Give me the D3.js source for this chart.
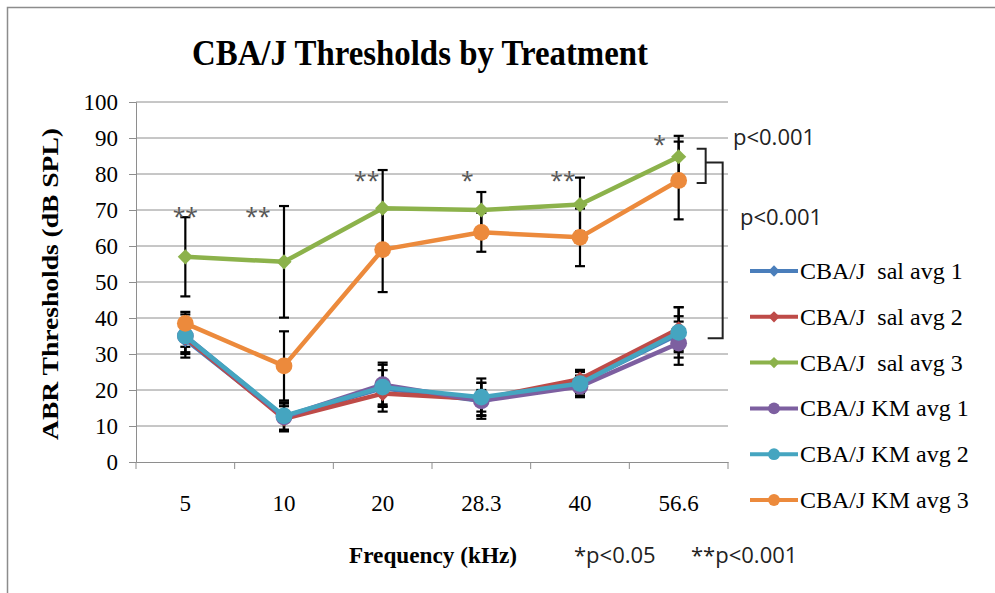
<!DOCTYPE html>
<html>
<head>
<meta charset="utf-8">
<script src="https://cdn.jsdelivr.net/npm/d3@7"></script>
<style>
  body { margin: 0; background: #fff; }
  text { font-family: 'Liberation Serif', 'Times New Roman', serif; }
  .sans { font-family: 'Open Sans', 'Noto Sans', sans-serif; }
</style>
</head>
<body>
<svg width="995" height="593"></svg>
<script>
// categories and tick labels
var freqs = ['5', '10', '20', '28.3', '40', '56.6'];
var yTicks = [0, 10, 20, 30, 40, 50, 60, 70, 80, 90, 100];

// series means (dB SPL)
var salAvg1 = [34, 12.5, 20.5, 17, 22, 35.5];
var salAvg2 = [34.5, 12, 19, 17.5, 23, 37];
var salAvg3 = [57, 55.6, 70.5, 70, 71.5, 84.8];
var kmAvg1 = [35, 12.5, 21.5, 17, 21, 33];
var kmAvg2 = [35, 12.8, 20.8, 18, 21.8, 36];
var kmAvg3 = [38.5, 26.7, 59, 63.8, 62.4, 78.2];

// error bar half-widths
var salErr1 = [4, 3.8, 5, 5, 3, 5];
var salErr2 = [4, 3.5, 3.7, 4.5, 2.6, 6];
var salErr3 = [11, 15.5, 10.6, 5, 7.5, 5.8];
var kmErr1 = [3, 3.8, 5.5, 3, 3, 6];
var kmErr2 = [6, 3.8, 6.8, 5.2, 3.5, 7];
var kmErr3 = [3.2, 9.6, 11.8, 5.4, 8, 10.8];

// significance markers
var sigLabels = ['**', '**', '**', '*', '**', '*'];
var sigLevels = [70, 70, 80, 80, 80, 90];

var series = [
  { name: 'CBA/J  sal avg 1', values: salAvg1, err: salErr1, color: '#4a7ebb', shape: 'diamond' },
  { name: 'CBA/J  sal avg 2', values: salAvg2, err: salErr2, color: '#be4b48', shape: 'diamond' },
  { name: 'CBA/J  sal avg 3', values: salAvg3, err: salErr3, color: '#8cb24b', shape: 'diamond' },
  { name: 'CBA/J KM avg 1', values: kmAvg1, err: kmErr1, color: '#7d5fa0', shape: 'circle' },
  { name: 'CBA/J KM avg 2', values: kmAvg2, err: kmErr2, color: '#45a5c0', shape: 'circle' },
  { name: 'CBA/J KM avg 3', values: kmAvg3, err: kmErr3, color: '#ec8a3c', shape: 'circle' }
];

var svg = d3.select('svg');

// outer frame
svg.append('rect')
  .attr('x', 7.5).attr('y', 7.5)
  .attr('width', 1000).attr('height', 600)
  .style('fill', 'none').style('stroke', '#8c8c8c').style('stroke-width', 1.5);

var x = d3.scaleBand().domain(freqs).range([136, 728]);
var y = d3.scaleLinear().domain([0, 100]).range([462, 102]);
var cx = function (i) { return x(freqs[i]) + x.bandwidth() / 2; };

// gridlines
svg.append('g')
  .selectAll('line')
  .data(yTicks.slice(1))
  .enter()
  .append('line')
  .attr('x1', 136).attr('x2', 728)
  .attr('y1', function (d) { return y(d); })
  .attr('y2', function (d) { return y(d); })
  .style('stroke', '#8e8e8e').style('stroke-width', 1);

// y axis
var yAxis = svg.append('g')
  .attr('transform', 'translate(136,0)')
  .call(d3.axisLeft(y).tickValues(yTicks).tickSize(7).tickPadding(11));
yAxis.select('.domain').style('stroke', '#8e8e8e');
yAxis.selectAll('.tick line').style('stroke', '#8e8e8e');
yAxis.selectAll('.tick text')
  .style('font-family', "'Liberation Serif', serif")
  .style('font-size', '23px').style('fill', '#000');

// x axis
var xAxis = svg.append('g')
  .attr('transform', 'translate(0,462)')
  .call(d3.axisBottom(x).tickSize(0).tickPadding(33));
xAxis.select('.domain').style('stroke', '#8e8e8e');
xAxis.selectAll('.tick text')
  .style('font-family', "'Liberation Serif', serif")
  .style('font-size', '23px').style('fill', '#000');
svg.append('g')
  .selectAll('line')
  .data(freqs.concat(['end']))
  .enter()
  .append('line')
  .attr('x1', function (d, i) { return 136 + i * x.bandwidth(); })
  .attr('x2', function (d, i) { return 136 + i * x.bandwidth(); })
  .attr('y1', 462).attr('y2', 469)
  .style('stroke', '#8e8e8e');

// error bars
var capW = 5;
series.forEach(function (s) {
  var g = svg.append('g').style('stroke', '#000').style('stroke-width', 2.2);
  s.values.forEach(function (v, i) {
    var lo = y(v - s.err[i]), hi = y(v + s.err[i]);
    g.append('line').attr('x1', cx(i)).attr('x2', cx(i)).attr('y1', lo).attr('y2', hi);
    g.append('line').attr('x1', cx(i) - capW).attr('x2', cx(i) + capW).attr('y1', lo).attr('y2', lo);
    g.append('line').attr('x1', cx(i) - capW).attr('x2', cx(i) + capW).attr('y1', hi).attr('y2', hi);
  });
});

// lines and markers
var line = d3.line()
  .x(function (d, i) { return cx(i); })
  .y(function (d) { return y(d); });

series.forEach(function (s) {
  svg.append('path')
    .datum(s.values)
    .attr('d', line)
    .style('fill', 'none')
    .style('stroke', s.color)
    .style('stroke-width', 4.5)
    .style('stroke-linejoin', 'round');

  var sym = s.shape === 'diamond'
    ? d3.symbol().type(d3.symbolSquare).size(115)
    : d3.symbol().type(d3.symbolCircle).size(220);
  svg.append('g')
    .selectAll('path')
    .data(s.values)
    .enter()
    .append('path')
    .attr('d', sym)
    .attr('transform', function (d, i) {
      return 'translate(' + cx(i) + ',' + y(d) + ')' + (s.shape === 'diamond' ? ' rotate(45)' : '');
    })
    .style('fill', s.color);
});

// significance asterisks
var sigDx = [0, -26, -16, -14, -17, -19];
svg.append('g')
  .selectAll('text')
  .data(sigLabels)
  .enter()
  .append('text')
  .attr('class', 'sans')
  .attr('x', function (d, i) { return cx(i) + sigDx[i]; })
  .attr('y', function (d, i) { return y(sigLevels[i]) + 15; })
  .attr('text-anchor', 'middle')
  .style('font-size', '23px')
  .style('fill', '#555')
  .text(function (d) { return d; });

// brackets
var last = cx(5);
svg.append('path')
  .attr('d', 'M' + (last + 18) + ',' + y(87) + 'H' + (last + 27) + 'V' + y(77.5) + 'H' + (last + 18))
  .style('fill', 'none').style('stroke', '#222').style('stroke-width', 2);
svg.append('path')
  .attr('d', 'M' + (last + 27) + ',' + y(83.2) + 'H' + (last + 44) + 'V' + y(34.4) + 'H' + (last + 29))
  .style('fill', 'none').style('stroke', '#222').style('stroke-width', 2);
svg.append('text').attr('class', 'sans')
  .attr('x', 733).attr('y', 145)
  .style('font-size', '22px').style('fill', '#222')
  .text('p<0.001');
svg.append('text').attr('class', 'sans')
  .attr('x', 740).attr('y', 225)
  .style('font-size', '22px').style('fill', '#222')
  .text('p<0.001');

// title and axis titles
svg.append('text')
  .attr('x', 192).attr('y', 65)
  .attr('textLength', 456).attr('lengthAdjust', 'spacingAndGlyphs')
  .style('font-size', '35px').style('font-weight', 'bold')
  .text('CBA/J Thresholds by Treatment');

svg.append('text')
  .attr('transform', 'translate(58,284) rotate(-90)')
  .attr('text-anchor', 'middle')
  .attr('textLength', 312).attr('lengthAdjust', 'spacingAndGlyphs')
  .style('font-size', '24px').style('font-weight', 'bold')
  .text('ABR Thresholds (dB SPL)');

svg.append('text')
  .attr('x', 433).attr('y', 563)
  .attr('text-anchor', 'middle')
  .attr('textLength', 168).attr('lengthAdjust', 'spacingAndGlyphs')
  .style('font-size', '24px').style('font-weight', 'bold')
  .text('Frequency (kHz)');

svg.append('text').attr('class', 'sans')
  .attr('x', 574).attr('y', 563)
  .style('font-size', '22px').style('fill', '#222')
  .text('*p<0.05');
svg.append('text').attr('class', 'sans')
  .attr('x', 691).attr('y', 563)
  .style('font-size', '22px').style('fill', '#222')
  .text('**p<0.001');

// legend
var legend = svg.append('g')
  .selectAll('g')
  .data(series)
  .enter()
  .append('g')
  .attr('transform', function (d, i) { return 'translate(750,' + (271 + i * 45.8) + ')'; });
legend.append('line')
  .attr('x1', 0).attr('x2', 48)
  .style('stroke', function (d) { return d.color; })
  .style('stroke-width', 4);
legend.append('path')
  .attr('d', function (d) {
    return d.shape === 'diamond'
      ? d3.symbol().type(d3.symbolSquare).size(64)()
      : d3.symbol().type(d3.symbolCircle).size(110)();
  })
  .attr('transform', function (d) { return 'translate(24,0)' + (d.shape === 'diamond' ? ' rotate(45)' : ''); })
  .style('fill', function (d) { return d.color; });
legend.append('text')
  .attr('x', 50).attr('y', 8)
  .style('font-size', '24px')
  .style('white-space', 'pre')
  .text(function (d) { return d.name; });
</script>
</body>
</html>
